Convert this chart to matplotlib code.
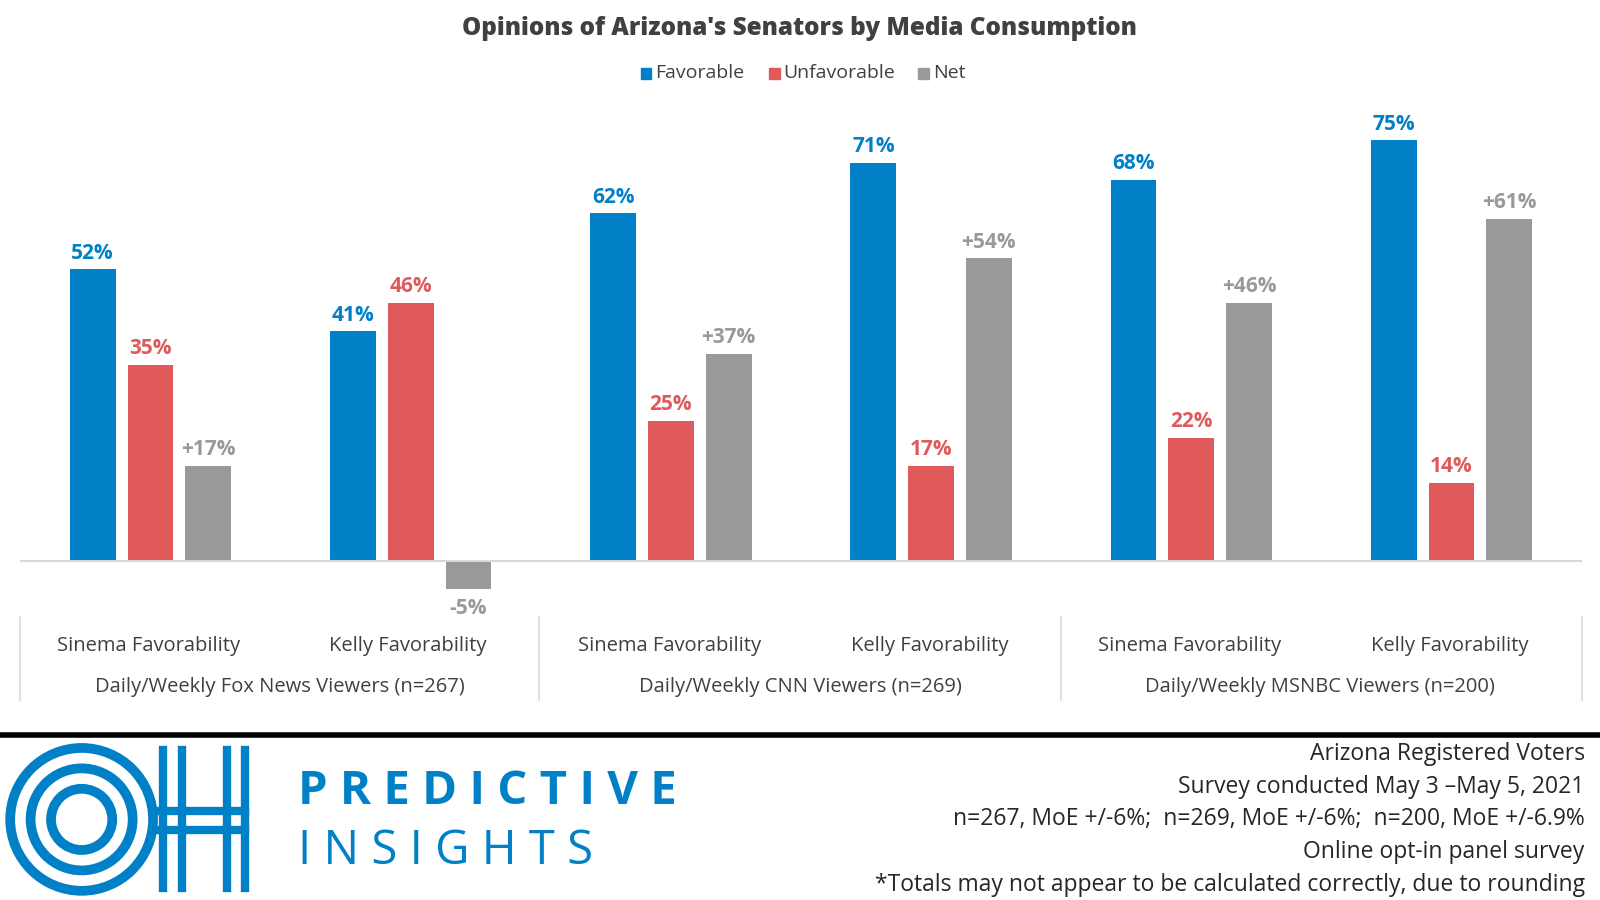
import matplotlib
matplotlib.use("Agg")
import matplotlib.pyplot as plt
from matplotlib.patches import Ellipse, Rectangle
import numpy as np

categories = ["Sinema Favorability", "Kelly Favorability"] * 3
groups = ["Daily/Weekly Fox News Viewers (n=267)", "Daily/Weekly CNN Viewers (n=269)",
          "Daily/Weekly MSNBC Viewers (n=200)"]
favorable = [52, 41, 62, 71, 68, 75]
unfavorable = [35, 46, 25, 17, 22, 14]
net = [17, -5, 37, 54, 46, 61]

BLUE, RED, GREY = "#0080C6", "#E05A5C", "#999999"
W, H = 1568, 882  # reference pixel space
fig = plt.figure(figsize=(16, 9), dpi=100)
plt.rcParams['font.family'] = ['Open Sans', 'DejaVu Sans']

ax = fig.add_axes([20/W, 1-594/H, 1530/W, 484/H])
x = np.arange(6)
bw, off = 0.176, 0.222
ax.bar(x-off, favorable, bw, color=BLUE)
ax.bar(x, unfavorable, bw, color=RED)
ax.bar(x+off, net, bw, color=GREY)
for i in range(6):
    ax.text(x[i]-off, favorable[i]+1, f"{favorable[i]}%", color=BLUE, ha="center", va="bottom", fontsize=15, fontweight="bold")
    ax.text(x[i], unfavorable[i]+1, f"{unfavorable[i]}%", color=RED, ha="center", va="bottom", fontsize=15, fontweight="bold")
    if net[i] >= 0:
        ax.text(x[i]+off, net[i]+1, f"+{net[i]}%", color=GREY, ha="center", va="bottom", fontsize=15, fontweight="bold")
    else:
        ax.text(x[i]+off, net[i]-1.5, f"{net[i]}%", color=GREY, ha="center", va="top", fontsize=15, fontweight="bold")
ax.set_xlim(-0.5, 5.5)
ax.set_ylim(-8, 80)
ax.axhline(0, color="#D9D9D9", lw=1.5)
ax.axis("off")

def fx(px): return px/W
def fy(py): return 1-py/H

fig.text(fx(783), fy(28), "Opinions of Arizona's Senators by Media Consumption", ha="center", va="center",
         fontsize=17.5, fontweight="heavy", color="#404040")
lx = 628
for lab, c, wpx in [("Favorable", BLUE, 0), ("Unfavorable", RED, 126), ("Net", GREY, 272)]:
    fig.patches.append(Rectangle((fx(lx+wpx), fy(77)), 10/W, 10/H, color=c, transform=fig.transFigure))
    fig.text(fx(lx+wpx+14), fy(72), lab, fontsize=14, va="center", color="#404040")

centers = [146, 400, 656, 911, 1166, 1421]
for c, lab in zip(centers, categories):
    fig.text(fx(c), fy(633), lab, ha="center", va="center", fontsize=14.5, color="#404040")
for c, lab in zip([274, 784, 1294], groups):
    fig.text(fx(c), fy(673), lab, ha="center", va="center", fontsize=14.5, color="#404040")
for sx in [20, 528, 1040, 1550]:
    fig.add_artist(plt.Line2D([fx(sx)]*2, [fy(605), fy(686)], color="#D9D9D9", lw=1.2))
fig.add_artist(plt.Line2D([0, 1], [fy(720)]*2, color="black", lw=4))

foot = ["Arizona Registered Voters", "Survey conducted May 3 \u2013May 5, 2021",
        "n=267, MoE +/-6%;  n=269, MoE +/-6%;  n=200, MoE +/-6.9%",
        "Online opt-in panel survey", "*Totals may not appear to be calculated correctly, due to rounding"]
for i, t in enumerate(foot):
    fig.text(fx(1553), fy(739+32*i), t, ha="right", va="center", fontsize=16.5, color="#262626")

# logo
cx, cy = 80, 803
for r in [70, 50, 30]:
    fig.patches.append(Ellipse((fx(cx), fy(cy)), 2*r/W, 2*r/H, transform=fig.transFigure, fill=False,
                               ec=BLUE, lw=7))
for xx in [160, 178, 222, 240]:
    fig.add_artist(plt.Line2D([fx(xx)]*2, [fy(735), fy(870)], color=BLUE, lw=6))
for yy in [795, 813]:
    fig.add_artist(plt.Line2D([fx(150), fx(240)], [fy(yy)]*2, color=BLUE, lw=6))
fig.text(fx(292), fy(776), "P R E D I C T I V E", fontsize=34, fontweight="bold", color=BLUE, va="center")
fig.text(fx(292), fy(834), "I N S I G H T S", fontsize=34, color=BLUE, va="center")

fig.savefig("out.png", dpi=100)
